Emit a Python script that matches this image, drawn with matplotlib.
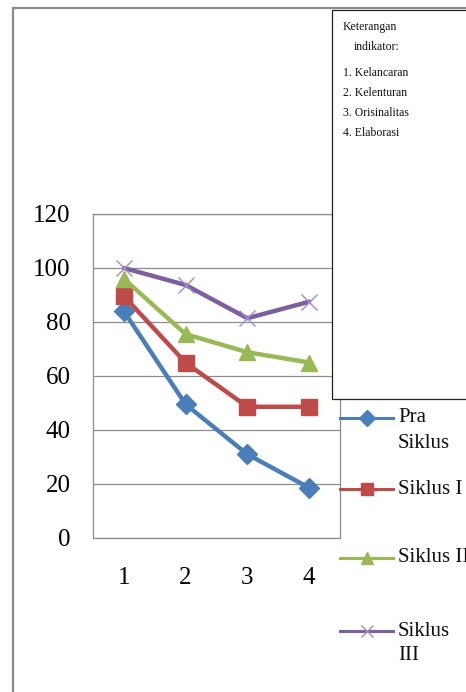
import matplotlib
matplotlib.use("Agg")
import matplotlib.pyplot as plt
from matplotlib.patches import Rectangle
from matplotlib.lines import Line2D

categories = [1, 2, 3, 4]
pra_siklus = [84, 49.5, 31, 18.6]
siklus_1 = [89.6, 64.9, 48.6, 48.6]
siklus_2 = [96, 75.5, 68.8, 65]
siklus_3 = [100, 93.7, 81.4, 87.5]
series_labels = ["Pra\nSiklus", "Siklus I", "Siklus II", "Siklus\nIII"]
y_ticks = [0, 20, 40, 60, 80, 100, 120]
note_lines = ["Keterangan", "indikator:", "1. Kelancaran", "2. Kelenturan",
              "3. Orisinalitas", "4. Elaborasi"]

W, H = 466, 692
fig = plt.figure(figsize=(W / 100, H / 100), dpi=100)
plt.rcParams['font.family'] = ['Liberation Serif', 'DejaVu Serif']

def fx(px):
    return px / W

def fy(py):
    return 1 - py / H

# outer frame
fig.patches.append(Rectangle((fx(12.5), fy(900)), 2, fy(8.5) - fy(900),
                             transform=fig.transFigure, fill=False,
                             edgecolor="#8a8a8a", lw=1.6))

ax = fig.add_axes([fx(93), fy(538), fx(340) - fx(93), fy(214) - fy(538)])
ax.set_xlim(0.5, 4.5)
ax.set_ylim(0, 120)
ax.set_yticks(y_ticks)
ax.set_xticks(categories)
ax.grid(axis="y", color="#8c8c8c", lw=0.9)
ax.set_axisbelow(True)
for s in ax.spines.values():
    s.set_color("#8c8c8c")
    s.set_linewidth(0.9)
ax.tick_params(length=0, labelsize=18)
ax.tick_params(axis="x", pad=21)
ax.tick_params(axis="y", pad=16)

styles = [
    dict(color="#4A7EBB", marker="D", ms=10, mec="#4A7EBB", mew=1),
    dict(color="#BE4B48", marker="s", ms=11.5, mec="#BE4B48", mew=1),
    dict(color="#98B954", marker="^", ms=11.5, mec="#98B954", mew=1),
    dict(color="#7D5FA0", marker="x", ms=11, mec="#A08CC8", mew=1.0),
]
data = [pra_siklus, siklus_1, siklus_2, siklus_3]
for vals, st in zip(data, styles):
    ax.plot(categories, vals, lw=3.2, solid_capstyle="round", clip_on=False, **st)

# note box
fig.patches.append(Rectangle((fx(332), fy(399.5)), 1, fy(9.5) - fy(399.5),
                             transform=fig.transFigure, facecolor="white",
                             edgecolor="#222222", lw=0.9, zorder=5))
note_pos = [(343, 27), (354, 47), (343, 73), (343, 93), (343, 113), (343, 133)]
for t, (x, y) in zip(note_lines, note_pos):
    fig.text(fx(x), fy(y), t, fontsize=8.5, va="center", ha="left", zorder=6,
             color="#111111")

# legend
leg_y = [418, 489, 558, 631]
for lab, st, y in zip(series_labels, styles, leg_y):
    fig.lines.append(Line2D([fx(340), fx(393)], [fy(y), fy(y)],
                            transform=fig.transFigure, lw=2.2,
                            color=st["color"], marker=None))
    mk = dict(st)
    mk["ms"] = mk["ms"] * 0.8
    fig.lines.append(Line2D([fx(366.5)], [fy(y)], transform=fig.transFigure,
                            lw=0, **mk))
    lines = lab.split("\n")
    for i, ln in enumerate(lines):
        fig.text(fx(398), fy(y + 25 * i), ln, fontsize=15, va="center",
                 ha="left", color="#111111")

fig.savefig("out.png", dpi=100)
